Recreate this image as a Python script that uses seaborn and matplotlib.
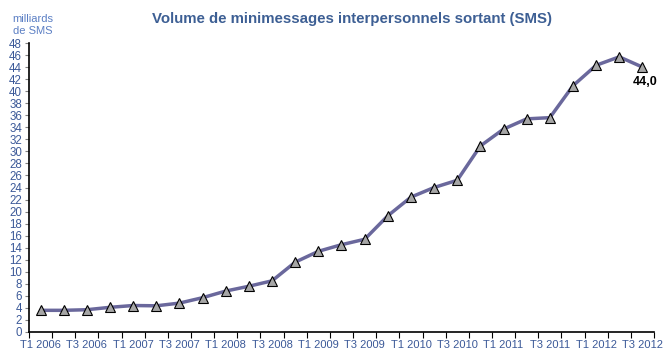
import numpy as np
import pandas as pd
import matplotlib
matplotlib.use('Agg')
import matplotlib.pyplot as plt
import seaborn as sns

# Trimestres T1 2006 -> T3 2012
trimestres = [f'T{q} {a}' for a in range(2006, 2013) for q in range(1, 5)][:27]
volumes = [3.6, 3.6, 3.7, 4.1, 4.4, 4.35, 4.8, 5.7, 6.8, 7.6, 8.5, 11.6, 13.4,
           14.5, 15.4, 19.3, 22.4, 24.0, 25.2, 30.9, 33.7, 35.4, 35.6, 40.9,
           44.3, 45.7, 44.0]

df = pd.DataFrame({'pos': np.arange(len(volumes)), 'trimestre': trimestres, 'volume': volumes})

sns.set_style('white')
plt.rcParams['font.family'] = ['Liberation Sans', 'DejaVu Sans']

fig = plt.figure(figsize=(6.7, 3.64), dpi=100)
ax = fig.add_axes([29 / 670, 1 - 332 / 364, 625 / 670, 289 / 364])

sns.lineplot(data=df, x='pos', y='volume', ax=ax, color='#6a689c', linewidth=2.5,
             marker='^', markersize=7.5, markerfacecolor='#a6a6a6',
             markeredgecolor='black', markeredgewidth=0.8)

ax.set_xlim(-0.5, len(volumes) - 0.5)
ax.set_ylim(0, 48)
ax.set_yticks(range(0, 49, 2))
ax.tick_params(axis='y', labelsize=8.3, colors='#808080', labelcolor='#3b5998',
               length=3, width=0.8, pad=2, left=True)

# ticks aux limites des trimestres, libellés un sur deux
ax.set_xticks(np.arange(len(volumes) + 1) - 0.5)
ax.set_xticklabels([])
ax.set_xticks(df['pos'][::2], minor=True)
ax.set_xticklabels(df['trimestre'][::2], minor=True)
ax.tick_params(axis='x', which='major', length=4, width=0.8, colors='black', bottom=True)
ax.tick_params(axis='x', which='minor', length=0, labelsize=8, labelcolor='#3b5998', pad=6)

for s in ['top', 'right']:
    ax.spines[s].set_visible(False)
for s in ['left', 'bottom']:
    ax.spines[s].set_color('black')
    ax.spines[s].set_linewidth(1.2)

ax.set_xlabel('')
ax.set_ylabel('')

ax.annotate('44,0', (df['pos'].iloc[-1], volumes[-1]), xytext=(2, -11),
            textcoords='offset points', ha='center', va='center',
            fontsize=9, fontweight='bold', color='black')

fig.text(0.525, 1 - 19 / 364, 'Volume de minimessages interpersonnels sortant (SMS)',
         ha='center', va='center', fontsize=10.8, fontweight='bold', color='#3d5f94')
fig.text(33 / 670, 1 - 25 / 364, 'milliards\nde SMS', ha='center', va='center',
         multialignment='center', fontsize=8, color='#5b7fc4', linespacing=1.15)

fig.savefig('out.png', dpi=100)
